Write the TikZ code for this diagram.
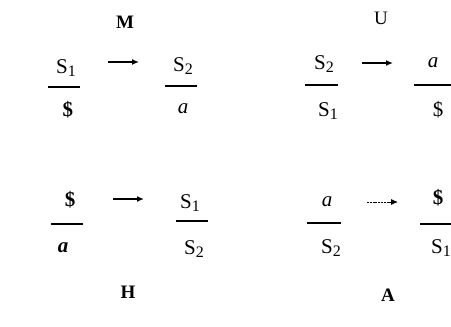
\documentclass[tikz,border=0pt]{standalone}
\usepackage{fontspec}
\setmainfont{Liberation Serif}
\usetikzlibrary{arrows.meta}
\newcommand{\mysub}[1]{\raisebox{-0.22ex}{\fontsize{16}{16}\selectfont #1}}
\tikzset{
  lbl/.style={inner sep=0pt, font=\fontsize{21}{24}\selectfont},
  ttl/.style={inner sep=0pt, font=\fontsize{19}{22}\selectfont},
  bttl/.style={inner sep=0pt, font=\fontsize{19}{22}\selectfont\bfseries},
  bar/.style={line width=1.1pt},
  arr/.style={-{Latex[length=7pt,width=6pt]}, line width=1.3pt}
}
\begin{document}
\begin{tikzpicture}[x=1pt,y=-1pt]
\useasboundingbox (0,0) rectangle (451,327);
\clip (0,0) rectangle (451,327);
% titles
\node[bttl] (tM) at (125,22) {M};
\node[ttl] (tU) at (381,18) {U};
\node[bttl] (tH) at (128,292) {H};
\node[bttl] (tA) at (388,295) {A};
% M
\node[lbl] (m1n) at (66,68) {S\mysub{1}};
\draw[bar] (48,87) -- (80,87);
\node[lbl] (m1d) at (68,110) {\textbf{\$}};
\coordinate (ma1) at (108,62);
\coordinate (ma2) at (139,62);
\draw[arr] (ma1) -- (ma2);
\node[lbl] (m2n) at (183,66) {S\mysub{2}};
\draw[bar] (165,86) -- (197,86);
\node[lbl] (m2d) at (183,109) {\textit{a}};
% U
\node[lbl] (u1n) at (324,64) {S\mysub{2}};
\draw[bar] (305,85) -- (338,85);
\node[lbl] (u1d) at (328,111) {S\mysub{1}};
\coordinate (ua1) at (362,63);
\coordinate (ua2) at (393,63);
\draw[arr] (ua1) -- (ua2);
\node[lbl] (u2n) at (433,63) {\textit{a}};
\draw[bar] (414,85) -- (451,85);
\node[lbl] (u2d) at (438,110) {\$};
% H
\node[lbl] (h1n) at (70,200) {\textbf{\$}};
\draw[bar] (51,224) -- (83,224);
\node[lbl] (h1d) at (63,248) {\textbf{\textit{a}}};
\coordinate (ha1) at (113,199);
\coordinate (ha2) at (144,199);
\draw[arr] (ha1) -- (ha2);
\node[lbl] (h2n) at (190,203) {S\mysub{1}};
\draw[bar] (176,221) -- (208,221);
\node[lbl] (h2d) at (194,249) {S\mysub{2}};
% A
\node[lbl] (a1n) at (327,202) {\textit{a}};
\draw[bar] (307,223) -- (341,223);
\node[lbl] (a1d) at (331,248) {S\mysub{2}};
\coordinate (aa1) at (367,202);
\coordinate (aa2) at (398,202);
\draw[arr, line width=0.9pt, dash pattern=on 2pt off 0.8pt] (aa1) -- (aa2);
\node[lbl] (a2n) at (438,198) {\textbf{\$}};
\draw[bar] (420,224) -- (451,224);
\node[lbl] (a2d) at (441,248) {S\mysub{1}};
\end{tikzpicture}
\end{document}
